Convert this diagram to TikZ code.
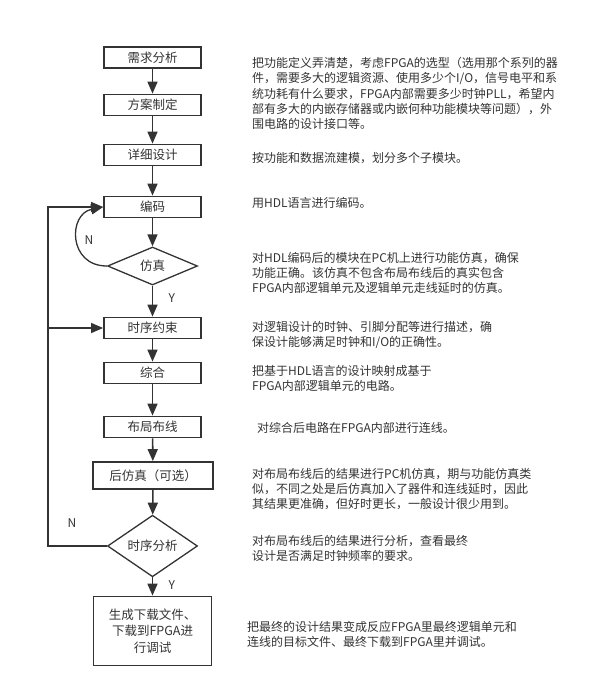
\documentclass[tikz,border=0pt]{standalone}
\usepackage{fontspec}
\newfontfamily\cjk{Noto Sans CJK SC}
\usetikzlibrary{shapes.geometric,arrows.meta,positioning}

\begin{document}
\begin{tikzpicture}[x=1pt,y=-1pt,color=black!80,font=\cjk\fontsize{12}{15.3}\selectfont,
    box/.style={draw,line width=1.8pt,minimum width=97pt,minimum height=21pt,inner sep=0pt,font=\cjk\fontsize{12.5}{16.7}\selectfont},
    decision/.style={draw,diamond,line width=1.3pt,minimum width=90pt,minimum height=38pt,inner sep=0pt,font=\cjk\fontsize{12.5}{16.7}\selectfont},
    note/.style={anchor=north west,inner sep=0pt,align=left},
    arr/.style={-{Triangle[length=12pt,width=10pt]},line width=1.6pt},
    backarr/.style={-{Triangle[length=12pt,width=10pt]},line width=1.3pt}]
    \useasboundingbox (0,0) rectangle (593,698);

    \node[box] (req) at (152.5,57.5) {需求分析};
    \node[box] (plan) at (152.5,105) {方案制定};
    \node[box] (detail) at (152.5,155) {详细设计};
    \node[box] (code) at (152.5,207) {编码};
    \node[decision] (sim) at (152.5,266) {仿真};
    \node[box] (cons) at (152.5,328) {时序约束};
    \node[box] (syn) at (152.5,373) {综合};
    \node[box] (pr) at (152.5,427) {布局布线};
    \node[box,minimum width=120pt,minimum height=27pt] (post) at (153,475.5) {后仿真（可选）};
    \node[decision,minimum height=39pt] (sta) at (152.5,546) {时序分析};
    \node[box,minimum width=118pt,minimum height=69pt,align=center] (gen) at (152.5,631) {生成下载文件、\\下载到FPGA进\\行调试};

    \draw[arr] (req) -- (plan);
    \draw[arr] (plan) -- (detail);
    \draw[arr] (detail) -- (code);
    \draw[arr] (code) -- (sim);
    \draw[arr] (sim) -- node[right=12pt,pos=0.4] {Y} (cons);
    \draw[arr] (cons) -- (syn);
    \draw[arr] (syn) -- (pr);
    \draw[arr] (pr) -- (post);
    \draw[arr] (post) -- (sta);
    \draw[arr] (sta) -- node[right=12pt,pos=0.4] {Y} (gen);

    \coordinate (left) at (48,0);
    \draw[backarr] (sim.west) .. controls (68,266) and (68,214) .. (code.west);
    \draw[backarr] (sta.west) -- (sta.west -| left) -- (code.west -| left) -- (code.west);
    \draw[backarr] (cons.west -| left) -- (cons.west);
    \node (nsim) at (89,240) {N};
    \node (nsta) at (72,523) {N};

    \node[note] (treq) at (252,57) {把功能定义弄清楚，考虑FPGA的选型（选用那个系列的器\\件，需要多大的逻辑资源、使用多少个I/O，信号电平和系\\统功耗有什么要求，FPGA内部需要多少时钟PLL，希望内\\部有多大的内嵌存储器或内嵌何种功能模块等问题），外\\围电路的设计接口等。};
    \node[note] (tdetail) at (252,152) {按功能和数据流建模，划分多个子模块。};
    \node[note] (tcode) at (252,197) {用HDL语言进行编码。};
    \node[note] (tsim) at (252,252) {对HDL编码后的模块在PC机上进行功能仿真，确保\\功能正确。该仿真不包含布局布线后的真实包含\\FPGA内部逻辑单元及逻辑单元走线延时的仿真。};
    \node[note] (tcons) at (252,321) {对逻辑设计的时钟、引脚分配等进行描述，确\\保设计能够满足时钟和I/O的正确性。};
    \node[note] (tsyn) at (252,365) {把基于HDL语言的设计映射成基于\\FPGA内部逻辑单元的电路。};
    \node[note] (tpr) at (257,422) {对综合后电路在FPGA内部进行连线。};
    \node[note] (tpost) at (252,468) {对布局布线后的结果进行PC机仿真，期与功能仿真类\\似，不同之处是后仿真加入了器件和连线延时，因此\\其结果更准确，但好时更长，一般设计很少用到。};
    \node[note] (tsta) at (252,535) {对布局布线后的结果进行分析，查看最终\\设计是否满足时钟频率的要求。};
    \node[note] (tgen) at (247,621) {把最终的设计结果变成反应FPGA里最终逻辑单元和\\连线的目标文件、最终下载到FPGA里并调试。};
\end{tikzpicture}
\end{document}
